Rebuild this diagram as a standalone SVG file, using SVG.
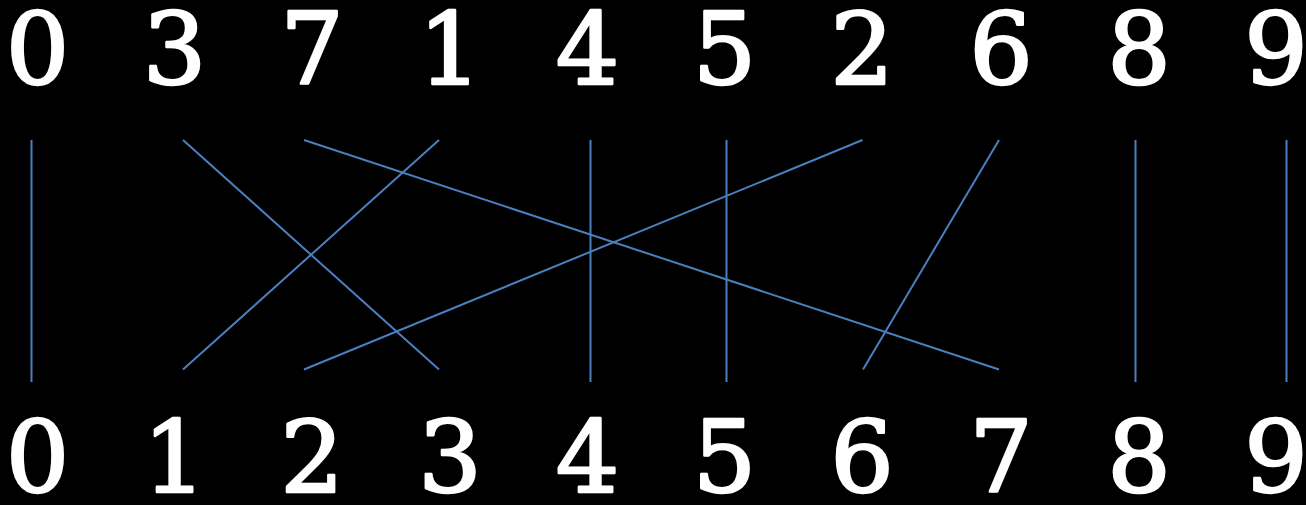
<svg xmlns="http://www.w3.org/2000/svg" width="1306" height="505" viewBox="0 0 1306 505">
<style>
.d{font-family:"DejaVu Serif","Liberation Serif",serif;font-size:100px;fill:#ffffff;stroke:#ffffff;stroke-width:2.5px;stroke-linejoin:round;text-anchor:middle}
.c line{stroke:#4a7fc0;stroke-width:2;fill:none}
</style>
<rect x="0" y="0" width="1306" height="505" fill="#000000"/>
<g id="top">
<g id="t0"><text class="d" x="37.5" y="84">0</text></g>
<g id="t3"><text class="d" x="174.5" y="84">3</text></g>
<g id="t7"><text class="d" x="312" y="84">7</text></g>
<g id="t1"><text class="d" x="450" y="84">1</text></g>
<g id="t4"><text class="d" x="587.5" y="84">4</text></g>
<g id="t5"><text class="d" x="724.5" y="84">5</text></g>
<g id="t2"><text class="d" x="862" y="84">2</text></g>
<g id="t6"><text class="d" x="1001" y="84">6</text></g>
<g id="t8"><text class="d" x="1139" y="84">8</text></g>
<g id="t9"><text class="d" x="1276" y="84">9</text></g>
</g>
<g id="bottom">
<g id="b0"><text class="d" x="37.5" y="492">0</text></g>
<g id="b1"><text class="d" x="174.5" y="492">1</text></g>
<g id="b2"><text class="d" x="312" y="492">2</text></g>
<g id="b3"><text class="d" x="450" y="492">3</text></g>
<g id="b4"><text class="d" x="587.5" y="492">4</text></g>
<g id="b5"><text class="d" x="724.5" y="492">5</text></g>
<g id="b6"><text class="d" x="862" y="492">6</text></g>
<g id="b7"><text class="d" x="1001" y="492">7</text></g>
<g id="b8"><text class="d" x="1139" y="492">8</text></g>
<g id="b9"><text class="d" x="1276" y="492">9</text></g>
</g>
<g id="connectors" class="c">
<line x1="31.5" y1="140" x2="31.5" y2="382"/>
<line x1="183" y1="140" x2="439" y2="369.5"/>
<line x1="304" y1="140" x2="999" y2="369.5"/>
<line x1="439" y1="140" x2="183" y2="369.5"/>
<line x1="590.5" y1="140" x2="590.5" y2="382"/>
<line x1="726.5" y1="140" x2="726.5" y2="382"/>
<line x1="862.5" y1="140" x2="304" y2="369.5"/>
<line x1="999" y1="140" x2="863" y2="369.5"/>
<line x1="1135.5" y1="140" x2="1135.5" y2="382"/>
<line x1="1286.5" y1="140" x2="1286.5" y2="382"/>
</g>
</svg>
